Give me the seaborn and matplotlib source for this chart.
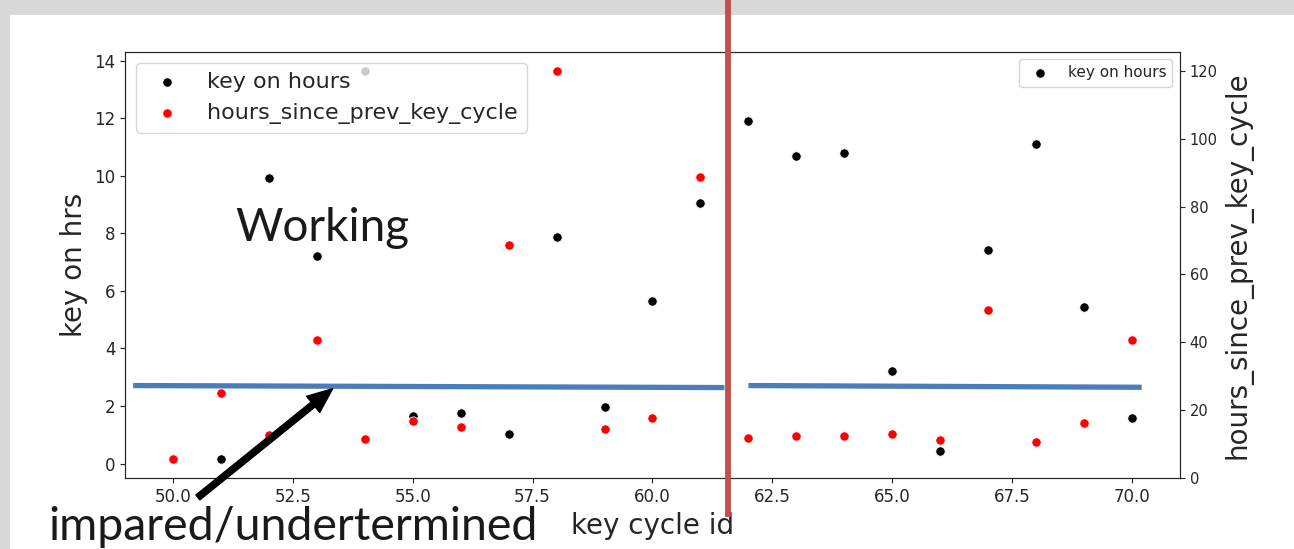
import numpy as np
import pandas as pd
import matplotlib
matplotlib.use("Agg")
import matplotlib.pyplot as plt
import matplotlib.transforms as mtransforms
from matplotlib.patches import Rectangle
import seaborn as sns

# data
cycle_ids = list(range(50, 71))
key_on_hours = [0.16, 0.16, 9.92, 7.21, 13.64, 1.64, 1.75, 1.03, 7.86, 1.95, 5.66,
                9.05, 11.89, 10.69, 10.79, 3.22, 0.43, 7.42, 11.12, 5.45, 1.59]
hours_since_prev = [5.6, 25.0, 12.8, 40.8, 11.6, 16.7, 14.9, 68.6, 120.0, 14.3, 17.7,
                    88.9, 11.7, 12.5, 12.5, 13.0, 11.1, 49.6, 10.6, 16.2, 40.8]

df = pd.DataFrame({"key cycle id": cycle_ids,
                   "key on hours": key_on_hours,
                   "hours_since_prev_key_cycle": hours_since_prev})

# slide overlay annotations (data coords of the left axis)
split_x = 61.58
threshold_segments = [((49.17, 2.71), (61.5, 2.64)), ((62.0, 2.71), (70.2, 2.65))]

sns.set_style("ticks")
W, H = 1294, 549
fig = plt.figure(figsize=(W / 100, H / 100), dpi=100)
fig.patch.set_facecolor("#d9d9d9")
fig.patches.append(Rectangle((10 / W, 0), 1 - 10 / W, (H - 15) / H, transform=fig.transFigure,
                             facecolor="white", edgecolor="none", zorder=-5))

ax1 = fig.add_axes([125 / W, (H - 478.3) / H, (1180 - 125) / W, (478.3 - 51.7) / H])
sns.scatterplot(data=df, x="key cycle id", y="key on hours", color="black", s=45,
                label="key on hours", ax=ax1)
ax1.set_ylabel("key on hrs", fontsize=20)
ax1.set_xlabel("key cycle id", fontsize=20)
ax1.tick_params(labelsize=12)
ax1.legend(loc="upper right", fontsize=11)

ax2 = ax1.twinx()
sns.scatterplot(data=df, x="key cycle id", y="hours_since_prev_key_cycle", color="red", s=45,
                label="hours_since_prev_key_cycle", ax=ax2)
ax2.set_ylabel("hours_since_prev_key_cycle", fontsize=20)
ax2.tick_params(labelsize=10.5)
h1, l1 = ax1.get_legend_handles_labels()
h2, l2 = ax2.get_legend_handles_labels()
ax2.legend(h1 + h2, l1 + l2, loc="upper left", fontsize=16)

# overlays
for (x0, y0), (x1, y1) in threshold_segments:
    ax2.plot([x0, x1], [y0, y1], color="#4a7ebb", lw=3.8, transform=ax1.transData,
             zorder=5, clip_on=False, solid_capstyle="butt")

trans = mtransforms.blended_transform_factory(ax1.transData, fig.transFigure)
ax2.plot([split_x, split_x], [1.0, (H - 517) / H], color="#c0504d", lw=4.2,
         transform=trans, clip_on=False, zorder=10, solid_capstyle="butt")

ax2.annotate("", xy=(53.33, 2.6), xycoords=ax1.transData,
             xytext=(50.52, -1.18), textcoords=ax1.transData,
             arrowprops=dict(facecolor="black", edgecolor="black", width=4.5,
                             headwidth=15, headlength=18, shrink=0),
             annotation_clip=False, zorder=9)

fig.text(235 / W, (H - 241) / H, "Working", fontsize=33, family="Lato",
         color="#1a1a1a", va="baseline", ha="left")
fig.text(48 / W, (H - 540) / H, "impared/undertermined", fontsize=33.5, family="Lato",
         color="#1a1a1a", va="baseline", ha="left")

fig.savefig("out.png", dpi=100, facecolor=fig.get_facecolor())
